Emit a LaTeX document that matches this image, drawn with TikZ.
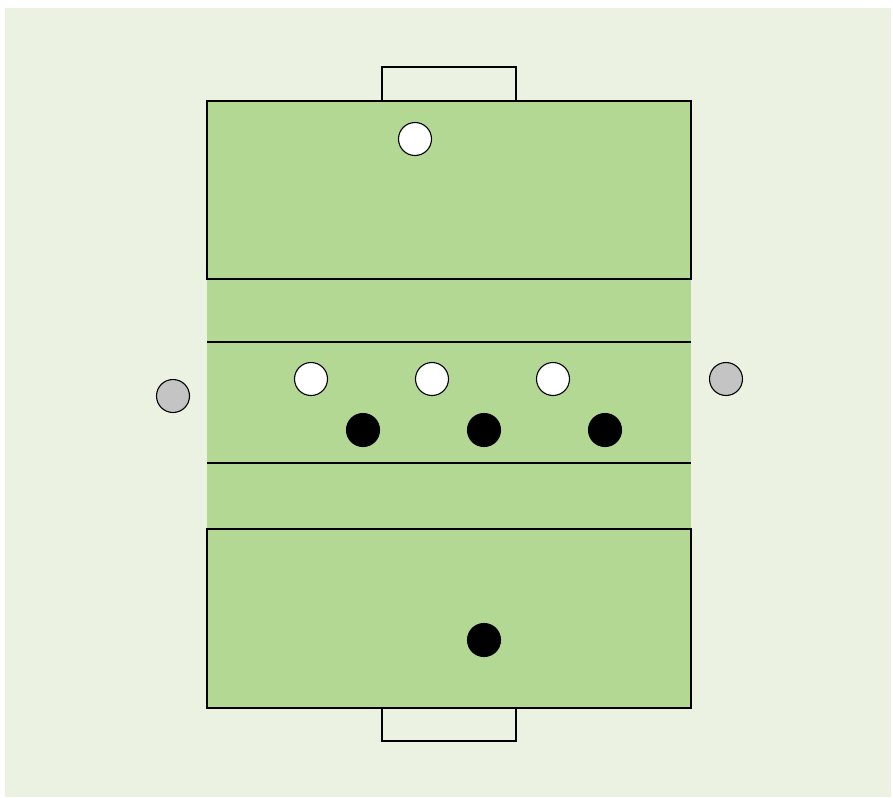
\documentclass[tikz,border=0pt]{standalone}
\usepackage{tikz}
\definecolor{pitchbg}{RGB}{235,242,225}
\definecolor{pitch}{RGB}{179,216,148}
\definecolor{neutralgray}{RGB}{196,196,196}
\tikzset{
  player/.style={circle,draw=black,line width=1.1pt,minimum size=33pt,inner sep=0pt},
  whiteplayer/.style={player,fill=white},
  blackplayer/.style={player,fill=black},
  neutral/.style={player,fill=neutralgray},
  pitchline/.style={draw=black,line width=1.1pt}
}

\begin{document}
\begin{tikzpicture}[x=1pt,y=-1pt]
\useasboundingbox (0,0) rectangle (893,797);
\fill[pitchbg] (5,8) rectangle (891,797);
\fill[pitch] (207,101) rectangle (691,708);
\draw[pitchline] (207,101) rectangle (691,279);
\draw[pitchline] (207,529) rectangle (691,708);
\draw[pitchline] (207,342) -- (691,342);
\draw[pitchline] (207,463) -- (691,463);
\draw[pitchline,fill=pitchbg] (382,67) rectangle (516,101);
\draw[pitchline,fill=pitchbg] (382,708) rectangle (516,741);
\node[whiteplayer] (keeperW) at (415,139) {};
\node[whiteplayer] (w1) at (311,379) {};
\node[whiteplayer] (w2) at (432,379) {};
\node[whiteplayer] (w3) at (553,379) {};
\node[blackplayer] (b1) at (363,430) {};
\node[blackplayer] (b2) at (484,430) {};
\node[blackplayer] (b3) at (605,430) {};
\node[blackplayer] (keeperB) at (484,640) {};
\node[neutral] (nleft) at (173,396) {};
\node[neutral] (nright) at (726,379) {};
\end{tikzpicture}
\end{document}
